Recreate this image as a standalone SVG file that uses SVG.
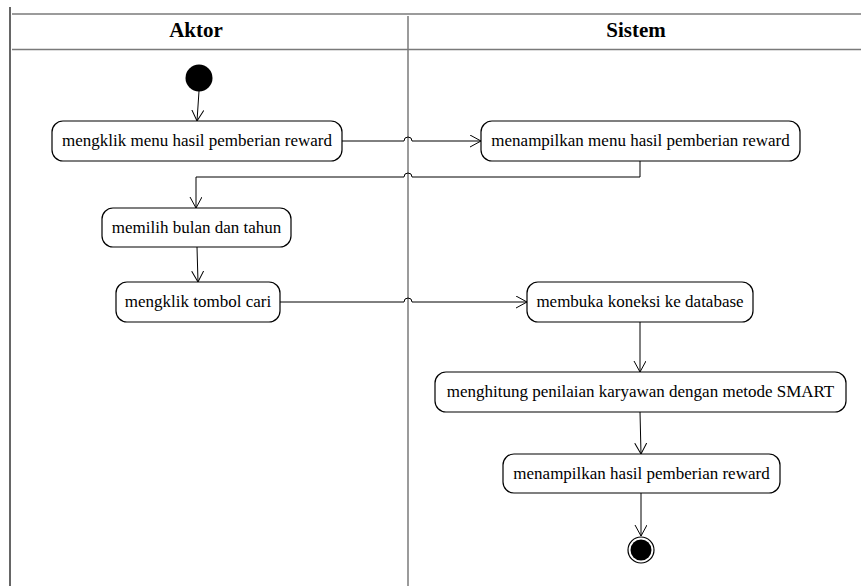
<svg xmlns="http://www.w3.org/2000/svg" width="861" height="586" viewBox="0 0 861 586">
  <style>
    .lane { stroke: #7a7a7a; stroke-width: 1.5; fill: none; }
    .border { stroke: #333; stroke-width: 1.5; fill: none; }
    .head { font-family: "Liberation Serif", "Times New Roman", serif; font-size: 21px; font-weight: bold; text-anchor: middle; fill: #000; }
    .act rect { fill: #fff; stroke: #000; stroke-width: 1.2; }
    .act text { font-family: "Liberation Serif", "Times New Roman", serif; font-size: 17px; text-anchor: middle; fill: #000; }
    .flow { stroke: #000; stroke-width: 1; fill: none; }
  </style>
  <defs>
    <marker id="open" markerWidth="14" markerHeight="14" refX="11" refY="6" orient="auto" markerUnits="userSpaceOnUse">
      <path d="M0,0 L11,6 L0,12" fill="none" stroke="#000" stroke-width="1"/>
    </marker>
  </defs>

  <!-- swimlane frame -->
  <g id="lanes">
    <line class="border" x1="10" y1="7" x2="10" y2="586"/>
    <line class="lane" x1="12" y1="14" x2="861" y2="14"/>
    <line class="lane" x1="12" y1="49.5" x2="861" y2="49.5"/>
    <line class="lane" x1="408" y1="16" x2="408" y2="586"/>
    <text class="head" x="196" y="37">Aktor</text>
    <text class="head" x="636" y="37">Sistem</text>
  </g>

  <!-- transitions; small hops where they cross the lane divider -->
  <g id="connectors">
    <line class="flow" x1="199" y1="91" x2="197" y2="121" marker-end="url(#open)"/>
    <path class="flow" d="M342,141 H404 A4,4 0 0 1 412,141 H481" marker-end="url(#open)"/>
    <path class="flow" d="M640,161 V177 H412 A4,4 0 0 0 404,177 H196 V208" marker-end="url(#open)"/>
    <line class="flow" x1="197" y1="247" x2="198" y2="282" marker-end="url(#open)"/>
    <path class="flow" d="M280,302 H404 A4,4 0 0 1 412,302 H527" marker-end="url(#open)"/>
    <line class="flow" x1="640" y1="322" x2="640" y2="372" marker-end="url(#open)"/>
    <line class="flow" x1="640" y1="412" x2="641" y2="454" marker-end="url(#open)"/>
    <line class="flow" x1="641" y1="493" x2="641" y2="536" marker-end="url(#open)"/>
  </g>

  <g id="start">
    <circle cx="199" cy="78" r="13.5" fill="#000"/>
  </g>

  <g id="act1" class="act">
    <rect x="52" y="121" width="290" height="40" rx="11"/>
    <text x="197" y="146">mengklik menu hasil pemberian reward</text>
  </g>
  <g id="act2" class="act">
    <rect x="481" y="121" width="319" height="40" rx="11"/>
    <text x="640.5" y="146">menampilkan menu hasil pemberian reward</text>
  </g>
  <g id="act3" class="act">
    <rect x="102" y="208" width="189" height="39" rx="11"/>
    <text x="196.5" y="233">memilih bulan dan tahun</text>
  </g>
  <g id="act4" class="act">
    <rect x="116" y="282" width="164" height="40" rx="11"/>
    <text x="198" y="307">mengklik tombol cari</text>
  </g>
  <g id="act5" class="act">
    <rect x="527" y="282" width="226" height="40" rx="11"/>
    <text x="640" y="307">membuka koneksi ke database</text>
  </g>
  <g id="act6" class="act">
    <rect x="435" y="372" width="411" height="40" rx="11"/>
    <text x="640.5" y="397">menghitung penilaian karyawan dengan metode SMART</text>
  </g>
  <g id="act7" class="act">
    <rect x="503" y="454" width="277" height="39" rx="11"/>
    <text x="641.5" y="479">menampilkan hasil pemberian reward</text>
  </g>

  <g id="end">
    <circle cx="641" cy="550" r="13" fill="#fff" stroke="#000" stroke-width="1.2"/>
    <circle cx="641" cy="550" r="10.5" fill="#000"/>
  </g>
</svg>
